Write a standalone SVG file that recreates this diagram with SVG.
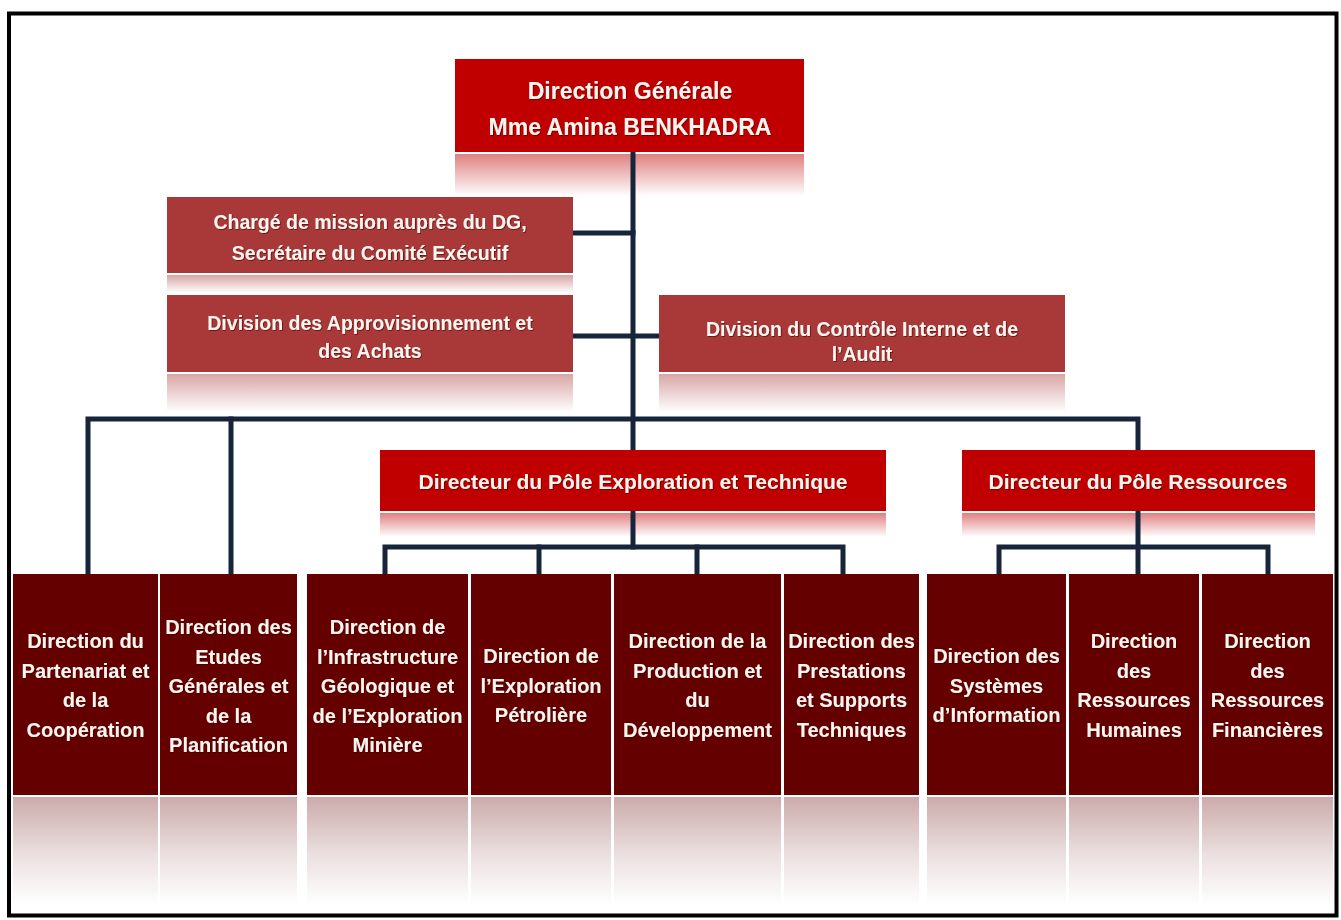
<svg xmlns="http://www.w3.org/2000/svg" width="1341" height="920" viewBox="0 0 1341 920">
<defs>
<style>
.t{font-family:"Liberation Sans",Arial,sans-serif;font-weight:bold;fill:#FFF4EE;text-anchor:middle;filter:url(#sh)}
.conn{stroke:#17253A;stroke-width:5;fill:none;stroke-linejoin:miter;stroke-linecap:square}
.red{fill:#C00000}
.mid{fill:#A93838}
.dark{fill:#640000}
</style>
<filter id="sh" x="-5%" y="-20%" width="110%" height="140%">
<feDropShadow dx="0.8" dy="0.8" stdDeviation="0.6" flood-color="#300000" flood-opacity="0.7"/>
</filter>
<linearGradient id="rRed" x1="0" y1="0" x2="0" y2="1">
<stop offset="0" stop-color="#C00000" stop-opacity="0.5"/>
<stop offset="1" stop-color="#C00000" stop-opacity="0"/>
</linearGradient>
<linearGradient id="rMid" x1="0" y1="0" x2="0" y2="1">
<stop offset="0" stop-color="#A93838" stop-opacity="0.45"/>
<stop offset="1" stop-color="#A93838" stop-opacity="0"/>
</linearGradient>
<linearGradient id="rDark" x1="0" y1="0" x2="0" y2="1">
<stop offset="0" stop-color="#640000" stop-opacity="0.33"/>
<stop offset="0.55" stop-color="#640000" stop-opacity="0.12"/>
<stop offset="1" stop-color="#640000" stop-opacity="0"/>
</linearGradient>
</defs>
<rect width="1341" height="920" fill="#FFFFFF"/>
<rect x="9" y="13.5" width="1327.5" height="902" fill="none" stroke="#000000" stroke-width="4"/>

<!-- reflections -->
<g id="reflections">
<rect x="455" y="154" width="349" height="42" fill="url(#rRed)"/>
<rect x="167" y="275" width="406" height="18" fill="url(#rMid)"/>
<rect x="167" y="374" width="406" height="38" fill="url(#rMid)"/>
<rect x="659" y="374" width="406" height="38" fill="url(#rMid)"/>
<rect x="380" y="513" width="506" height="24" fill="url(#rRed)"/>
<rect x="962" y="513" width="353" height="24" fill="url(#rRed)"/>
<rect x="13" y="797" width="145" height="108" fill="url(#rDark)"/>
<rect x="160" y="797" width="137" height="108" fill="url(#rDark)"/>
<rect x="307" y="797" width="161" height="108" fill="url(#rDark)"/>
<rect x="471" y="797" width="140" height="108" fill="url(#rDark)"/>
<rect x="614" y="797" width="167" height="108" fill="url(#rDark)"/>
<rect x="784" y="797" width="135" height="108" fill="url(#rDark)"/>
<rect x="927" y="797" width="139" height="108" fill="url(#rDark)"/>
<rect x="1069" y="797" width="130" height="108" fill="url(#rDark)"/>
<rect x="1202" y="797" width="131" height="108" fill="url(#rDark)"/>
</g>

<!-- connectors -->
<g id="connectors">
<line class="conn" x1="633" y1="152" x2="633" y2="450"/>
<line class="conn" x1="573" y1="233" x2="633" y2="233"/>
<line class="conn" x1="573" y1="336" x2="659" y2="336"/>
<path class="conn" d="M88 574 V419 H1138 V450"/>
<line class="conn" x1="231" y1="419" x2="231" y2="574"/>
<line class="conn" x1="633" y1="511" x2="633" y2="547"/>
<path class="conn" d="M385 574 V547 H843 V574"/>
<line class="conn" x1="539" y1="547" x2="539" y2="574"/>
<line class="conn" x1="697" y1="547" x2="697" y2="574"/>
<line class="conn" x1="1138" y1="511" x2="1138" y2="574"/>
<path class="conn" d="M999 574 V547 H1268 V574"/>
</g>

<g id="n-dg">
<rect class="red" x="455" y="59" width="349" height="93"/>
<text class="t" font-size="23"><tspan x="630" y="99">Direction Générale</tspan><tspan x="630" y="135">Mme Amina BENKHADRA</tspan></text>
</g>
<g id="n-charge">
<rect class="mid" x="167" y="197" width="406" height="76"/>
<text class="t" font-size="19.5"><tspan x="370" y="229">Chargé de mission auprès du DG,</tspan><tspan x="370" y="260">Secrétaire du Comité Exécutif</tspan></text>
</g>
<g id="n-approv">
<rect class="mid" x="167" y="295" width="406" height="77"/>
<text class="t" font-size="19.5"><tspan x="370" y="330">Division des Approvisionnement et</tspan><tspan x="370" y="358">des Achats</tspan></text>
</g>
<g id="n-controle">
<rect class="mid" x="659" y="295" width="406" height="77"/>
<text class="t" font-size="19.5"><tspan x="862" y="336">Division du Contrôle Interne et de</tspan><tspan x="862" y="361">l’Audit</tspan></text>
</g>
<g id="n-pole-expl">
<rect class="red" x="380" y="450" width="506" height="61"/>
<text class="t" font-size="21" x="633" y="489">Directeur du Pôle Exploration et Technique</text>
</g>
<g id="n-pole-res">
<rect class="red" x="962" y="450" width="353" height="61"/>
<text class="t" font-size="21" x="1138" y="489">Directeur du Pôle Ressources</text>
</g>

<g id="n-partenariat">
<rect class="dark" x="13" y="574" width="145" height="221"/>
<text class="t" font-size="20"><tspan x="85.5" y="648">Direction du</tspan><tspan x="85.5" y="677.5">Partenariat et</tspan><tspan x="85.5" y="707">de la</tspan><tspan x="85.5" y="736.5">Coopération</tspan></text>
</g>
<g id="n-etudes">
<rect class="dark" x="160" y="574" width="137" height="221"/>
<text class="t" font-size="20"><tspan x="228.5" y="634">Direction des</tspan><tspan x="228.5" y="663.5">Etudes</tspan><tspan x="228.5" y="693">Générales et</tspan><tspan x="228.5" y="722.5">de la</tspan><tspan x="228.5" y="752">Planification</tspan></text>
</g>
<g id="n-infra">
<rect class="dark" x="307" y="574" width="161" height="221"/>
<text class="t" font-size="20"><tspan x="387.5" y="634">Direction de</tspan><tspan x="387.5" y="663.5">l’Infrastructure</tspan><tspan x="387.5" y="693">Géologique et</tspan><tspan x="387.5" y="722.5">de l’Exploration</tspan><tspan x="387.5" y="752">Minière</tspan></text>
</g>
<g id="n-petrole">
<rect class="dark" x="471" y="574" width="140" height="221"/>
<text class="t" font-size="20"><tspan x="541" y="663">Direction de</tspan><tspan x="541" y="692.5">l’Exploration</tspan><tspan x="541" y="722">Pétrolière</tspan></text>
</g>
<g id="n-production">
<rect class="dark" x="614" y="574" width="167" height="221"/>
<text class="t" font-size="20"><tspan x="697.5" y="648">Direction de la</tspan><tspan x="697.5" y="677.5">Production et</tspan><tspan x="697.5" y="707">du</tspan><tspan x="697.5" y="736.5">Développement</tspan></text>
</g>
<g id="n-prestations">
<rect class="dark" x="784" y="574" width="135" height="221"/>
<text class="t" font-size="20"><tspan x="851.5" y="648">Direction des</tspan><tspan x="851.5" y="677.5">Prestations</tspan><tspan x="851.5" y="707">et Supports</tspan><tspan x="851.5" y="736.5">Techniques</tspan></text>
</g>
<g id="n-si">
<rect class="dark" x="927" y="574" width="139" height="221"/>
<text class="t" font-size="20"><tspan x="996.5" y="663">Direction des</tspan><tspan x="996.5" y="692.5">Systèmes</tspan><tspan x="996.5" y="722">d’Information</tspan></text>
</g>
<g id="n-rh">
<rect class="dark" x="1069" y="574" width="130" height="221"/>
<text class="t" font-size="20"><tspan x="1134" y="648">Direction</tspan><tspan x="1134" y="677.5">des</tspan><tspan x="1134" y="707">Ressources</tspan><tspan x="1134" y="736.5">Humaines</tspan></text>
</g>
<g id="n-rf">
<rect class="dark" x="1202" y="574" width="131" height="221"/>
<text class="t" font-size="20"><tspan x="1267.5" y="648">Direction</tspan><tspan x="1267.5" y="677.5">des</tspan><tspan x="1267.5" y="707">Ressources</tspan><tspan x="1267.5" y="736.5">Financières</tspan></text>
</g>
</svg>
